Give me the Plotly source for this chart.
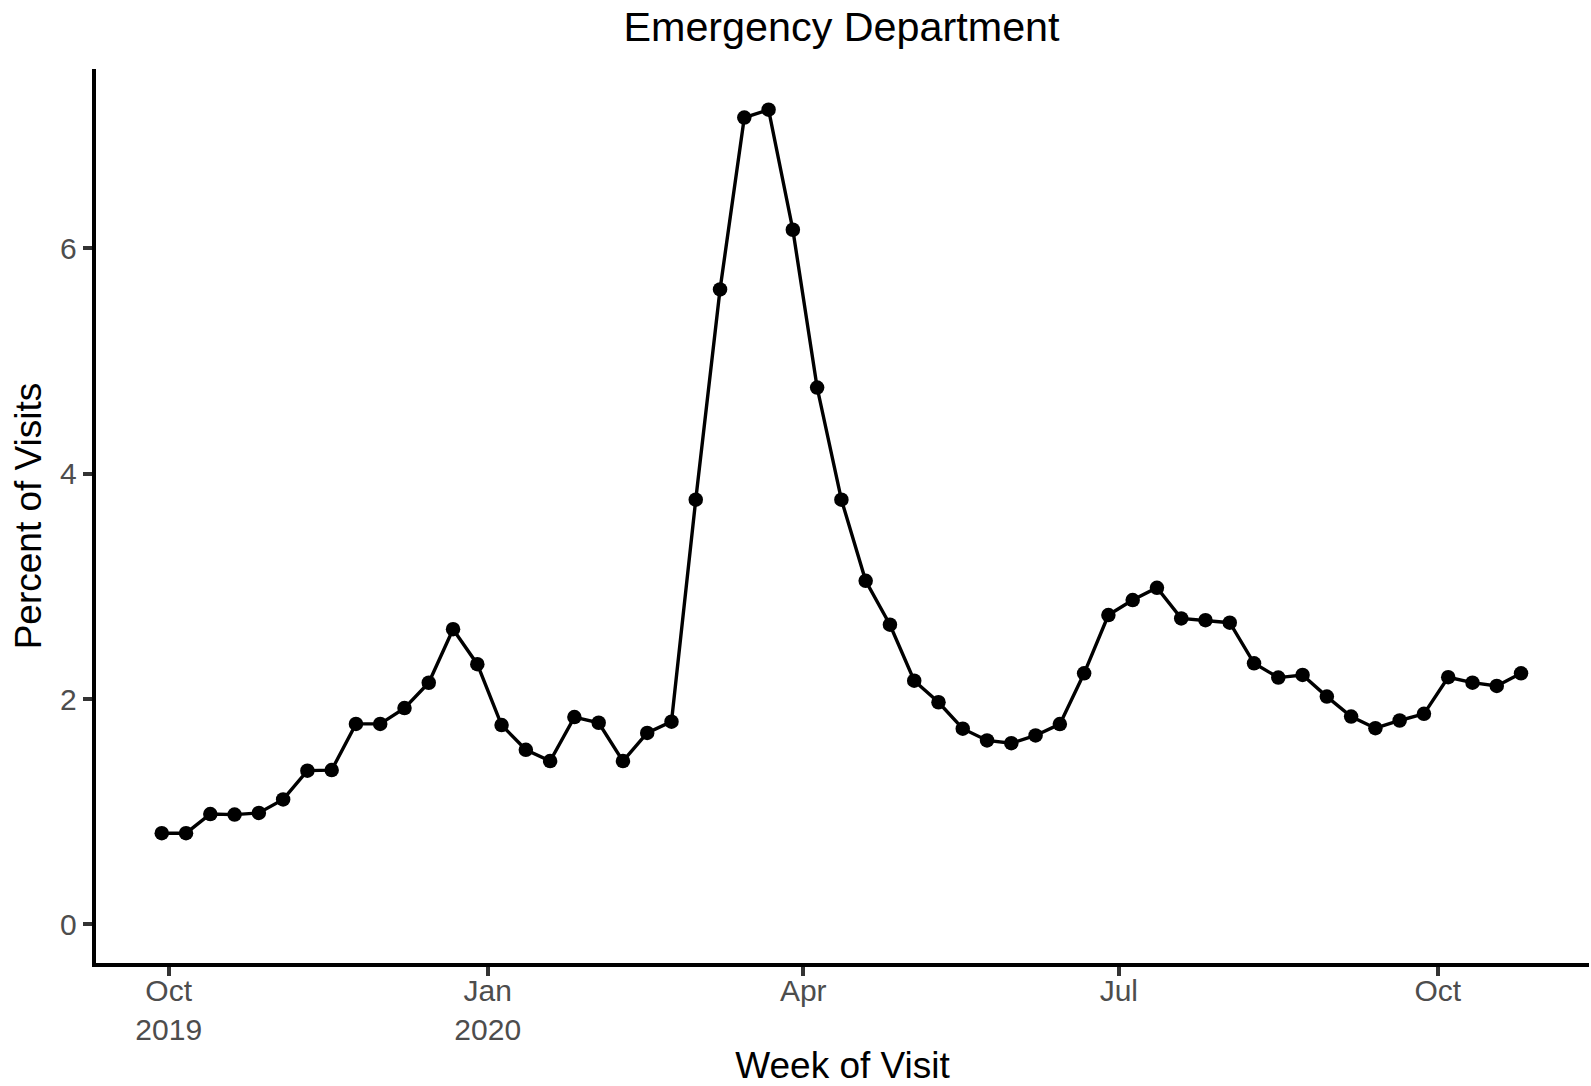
import datetime as dt
import plotly.graph_objects as go

# ---- data (weekly, week starting Sunday) ----
start_week = "2019-09-29"
n_weeks = 57
percent_of_visits = [
    0.81, 0.81, 0.98, 0.975, 0.99, 1.11, 1.365, 1.37, 1.78, 1.78,
    1.92, 2.145, 2.62, 2.31, 1.77, 1.55, 1.45, 1.84, 1.79, 1.45,
    1.70, 1.80, 3.77, 5.635, 7.16, 7.23, 6.165, 4.765, 3.77, 3.05,
    2.66, 2.163, 1.972, 1.737, 1.633, 1.609, 1.677, 1.778, 2.229, 2.746,
    2.879, 2.988, 2.716, 2.70, 2.678, 2.318, 2.191, 2.214, 2.022, 1.845,
    1.742, 1.810, 1.869, 2.194, 2.146, 2.117, 2.229,
]
tick_dates = ["2019-10-01", "2020-01-01", "2020-04-01", "2020-07-01", "2020-10-01"]
tick_labels = ["Oct<br>2019", "Jan<br>2020", "Apr", "Jul", "Oct"]
y_ticks = [0, 2, 4, 6]

title_text = "Emergency Department"
x_title = "Week of Visit"
y_title = "Percent of Visits"

# ---- derived ----
d0 = dt.date.fromisoformat(start_week)
weeks = [d0 + dt.timedelta(days=7 * i) for i in range(n_weeks)]

# ggplot-like 5% expansion of the panel
span = (weeks[-1] - weeks[0]).total_seconds()
pad = dt.timedelta(seconds=0.05 * span)
x0 = dt.datetime.combine(weeks[0], dt.time()) - pad
x1 = dt.datetime.combine(weeks[-1], dt.time()) + pad
ymax = max(percent_of_visits)
ypad = 0.05 * ymax
y0, y1 = -ypad, ymax + ypad

# panel geometry (px) and a small inset so plotly's outside-drawn axis
# lines sit centred on the panel edge, as in ggplot
W, H = 1591, 1086
PL, PR, PT, PB = 94, 1589, 69, 965
LW = 4.4
inset = LW / 2
x0_adj = x0 + (x1 - x0) * (inset / (PR - PL))
y0_adj = y0 + (y1 - y0) * (inset / (PB - PT))

FONT = "Liberation Sans, Arial, sans-serif"

fig = go.Figure()
fig.add_trace(go.Scatter(
    x=weeks, y=percent_of_visits,
    mode="lines+markers",
    line=dict(color="black", width=3.4),
    marker=dict(color="black", size=14.5),
    showlegend=False,
))

fig.update_layout(
    width=W, height=H,
    margin=dict(l=PL + inset, r=W - PR, t=PT, b=H - PB + inset),
    paper_bgcolor="white", plot_bgcolor="white",
    font=dict(family=FONT, color="black"),
    title=dict(text=title_text, x=(PL + PR) / 2 / W, xref="container", xanchor="center",
               yref="container", y=1 - 27 / H, yanchor="middle",
               font=dict(size=41.3, color="black", family=FONT)),
)
fig.update_xaxes(
    range=[x0_adj, x1], tickvals=tick_dates, ticktext=tick_labels,
    showgrid=False, zeroline=False,
    showline=True, linecolor="black", linewidth=LW,
    ticks="outside", ticklen=9, tickwidth=4.4, tickcolor="#333333",
    ticklabelstandoff=-11,
    tickfont=dict(size=30, color="#4D4D4D", family=FONT),
    title=dict(text=x_title, font=dict(size=37, color="black", family=FONT), standoff=13),
)
fig.update_yaxes(
    range=[y0_adj, y1], tickvals=y_ticks,
    showgrid=False, zeroline=False,
    showline=True, linecolor="black", linewidth=LW,
    ticks="outside", ticklen=9, tickwidth=4.4, tickcolor="#333333",
    tickfont=dict(size=30, color="#4D4D4D", family=FONT),
    title=dict(text=y_title, font=dict(size=37, color="black", family=FONT), standoff=8),
)

fig.write_html(
    "out.html",
    config={"displayModeBar": False},
    post_script="document.body.style.margin='0';document.body.style.overflow='hidden';",
)
